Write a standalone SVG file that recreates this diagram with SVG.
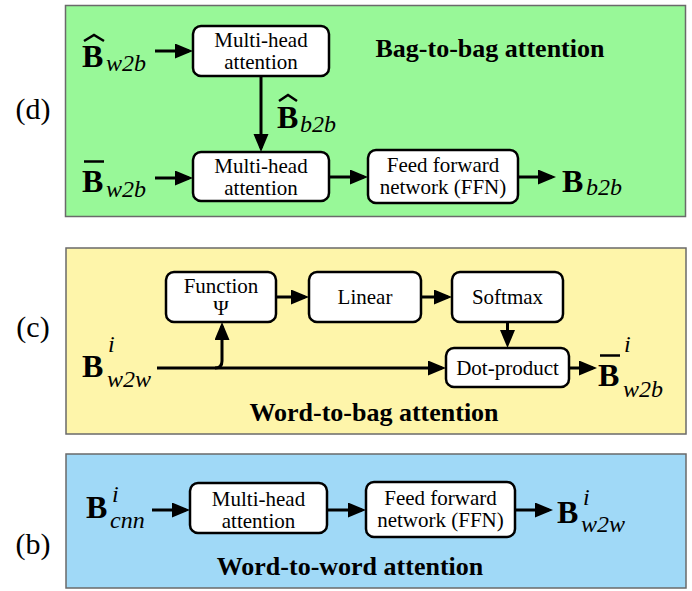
<svg xmlns="http://www.w3.org/2000/svg" width="692" height="591" viewBox="0 0 692 591">
<defs>
<marker id="ah" markerUnits="userSpaceOnUse" markerWidth="20" markerHeight="16" refX="14" refY="7.5" orient="auto">
<path d="M0,0 L18,7.5 L0,15 z" fill="#000"/>
</marker>
<style>
.panel{stroke:#6a6a6a;stroke-width:1.5}
.box{fill:#fff;stroke:#000;stroke-width:2.5}
text{font-family:'Liberation Serif','Times New Roman',Times,'Nimbus Roman','DejaVu Serif','Noto Serif',serif;fill:#000}
.t{font-size:21px;text-anchor:middle}
.bb{font-weight:bold;font-size:32px}
.it{font-style:italic;font-size:24px}
.title{font-weight:bold;font-size:26px;text-anchor:middle}
.lab{font-size:30px;text-anchor:middle}
.ln{stroke:#000;stroke-width:3;fill:none;marker-end:url(#ah)}
.acc{stroke:#000;stroke-width:2.5;fill:none}
</style>
</defs>

<g id="panels">
<rect class="panel" x="65.5" y="5.5" width="620" height="211" fill="#98f898"/>
<rect class="panel" x="66" y="248" width="620" height="186" fill="#fef5aa"/>
<rect class="panel" x="66" y="454" width="620" height="134" fill="#a0d9f7"/>
<text class="lab" x="33" y="119">(d)</text>
<text class="lab" x="33" y="337">(c)</text>
<text class="lab" x="33" y="554">(b)</text>
<text class="title" x="490" y="57">Bag-to-bag attention</text>
<text class="title" x="374" y="421">Word-to-bag attention</text>
<text class="title" x="350" y="575">Word-to-word attention</text>
</g>

<g id="d_in_hat">
<text class="bb" x="82" y="67">B</text><text class="it" x="106" y="71">w2b</text>
<path class="acc" d="M84,41 L94,35 L104,41"/>
</g>
<g id="d_mha1">
<rect class="box" x="193" y="26" width="136" height="50" rx="8"/>
<text class="t" x="261" y="47">Multi-head</text>
<text class="t" x="261" y="69">attention</text>
</g>
<g id="d_hat_b2b">
<text class="bb" x="277" y="128">B</text><text class="it" x="300" y="132">b2b</text>
<path class="acc" d="M279,101 L288,95 L297,101"/>
</g>
<g id="d_in_bar">
<text class="bb" x="82" y="192">B</text><text class="it" x="106" y="197">w2b</text>
<line class="acc" x1="84" y1="161.5" x2="104" y2="161.5" stroke-width="3"/>
</g>
<g id="d_mha2">
<rect class="box" x="193" y="152" width="136" height="49" rx="8"/>
<text class="t" x="261" y="173">Multi-head</text>
<text class="t" x="261" y="195">attention</text>
</g>
<g id="d_ffn">
<rect class="box" x="368" y="150" width="150" height="53" rx="8"/>
<text class="t" x="443" y="172">Feed forward</text>
<text class="t" x="443" y="194">network (FFN)</text>
</g>
<g id="d_out">
<text class="bb" x="562" y="192">B</text><text class="it" x="586" y="195">b2b</text>
</g>

<g id="c_in">
<text class="bb" x="82" y="377">B</text><text class="it" x="108" y="352">i</text><text class="it" x="107" y="387">w2w</text>
</g>
<g id="c_func">
<rect class="box" x="166" y="272" width="110" height="50" rx="8"/>
<text class="t" x="221" y="293">Function</text>
<text class="t" x="221" y="315">Ψ</text>
</g>
<g id="c_linear">
<rect class="box" x="309" y="272" width="112" height="50" rx="8"/>
<text class="t" x="365" y="304">Linear</text>
</g>
<g id="c_softmax">
<rect class="box" x="452" y="272" width="111" height="50" rx="8"/>
<text class="t" x="507.5" y="304">Softmax</text>
</g>
<g id="c_dot">
<rect class="box" x="446" y="348" width="123" height="39" rx="8"/>
<text class="t" x="507.5" y="375">Dot-product</text>
</g>
<g id="c_out">
<text class="bb" x="598" y="386">B</text><text class="it" x="624" y="352">i</text><text class="it" x="623" y="397">w2b</text>
<line class="acc" x1="600" y1="355.5" x2="620" y2="355.5" stroke-width="3"/>
</g>

<g id="b_in">
<text class="bb" x="86" y="518">B</text><text class="it" x="112" y="502">i</text><text class="it" x="110" y="528">cnn</text>
</g>
<g id="b_mha">
<rect class="box" x="190" y="483" width="137" height="50" rx="8"/>
<text class="t" x="258.5" y="506">Multi-head</text>
<text class="t" x="258.5" y="528">attention</text>
</g>
<g id="b_ffn">
<rect class="box" x="366" y="482" width="149" height="55" rx="8"/>
<text class="t" x="440.5" y="505">Feed forward</text>
<text class="t" x="440.5" y="527">network (FFN)</text>
</g>
<g id="b_out">
<text class="bb" x="557" y="523">B</text><text class="it" x="583" y="505">i</text><text class="it" x="581" y="532">w2w</text>
</g>

<g id="connectors">
<line class="ln" x1="155" y1="51" x2="189" y2="51"/>
<line class="ln" x1="261" y1="76" x2="261" y2="148"/>
<line class="ln" x1="155" y1="178" x2="189" y2="178"/>
<line class="ln" x1="329" y1="177" x2="364" y2="177"/>
<line class="ln" x1="518" y1="177" x2="552" y2="177"/>
<line class="ln" x1="276" y1="297" x2="305" y2="297"/>
<line class="ln" x1="421" y1="297" x2="448" y2="297"/>
<line class="ln" x1="507.5" y1="322" x2="507.5" y2="344"/>
<line class="ln" x1="157" y1="368" x2="442" y2="368"/>
<path class="ln" d="M215,368 Q222,368 222,361 L222,326"/>
<line class="ln" x1="569" y1="368" x2="593" y2="368"/>
<line class="ln" x1="152" y1="510" x2="186" y2="510"/>
<line class="ln" x1="327" y1="510" x2="362" y2="510"/>
<line class="ln" x1="515" y1="510" x2="549" y2="510"/>
</g>
</svg>
